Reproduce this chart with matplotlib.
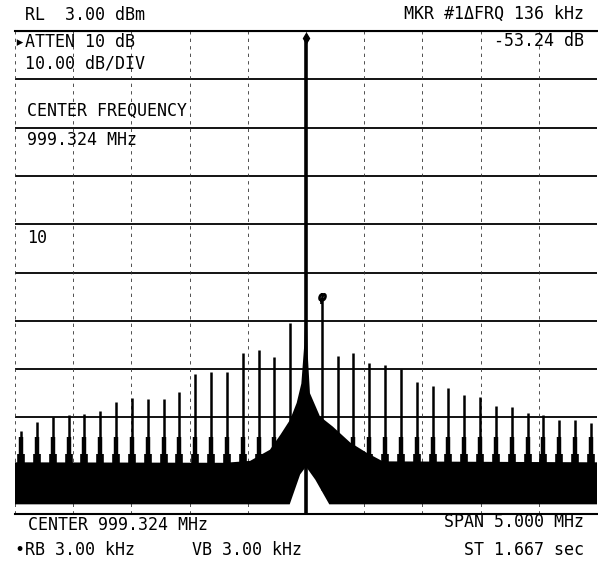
import numpy as np
import matplotlib
matplotlib.use("Agg")
import matplotlib.pyplot as plt

# --- data (offset from 999.324 MHz, MHz / dBm) ---
ref_level = 3.0
db_per_div = 10.0
span_mhz = 5.0
fm_spacing = 0.136

carrier_db = 1.6

# sidebands k = -18 .. -1
lower_sb_db = [-79.9, -77.9, -77.0, -76.4, -76.2, -75.6, -73.9, -72.9, -73.1,
               -73.1, -71.7, -68.1, -67.7, -67.7, -63.6, -63.0, -64.4, -57.4]
# sidebands k = 1 .. 18
upper_sb_db = [-52.2, -64.2, -63.6, -65.7, -66.1, -66.9, -69.6, -70.4, -71.0,
               -72.3, -72.7, -74.6, -74.8, -76.0, -76.4, -77.5, -77.5, -78.1]

# top of the noise band (incl. carrier skirt)
noise_f = [-2.5, -0.70, -0.48, -0.31, -0.22, -0.137, -0.08, -0.04, -0.015, 0.0,
           0.015, 0.034, 0.12, 0.23, 0.38, 0.52, 0.66, 2.5]
noise_top = [-86.3, -86.4, -86.0, -83.7, -80.6, -77.5, -74.0, -70.0, -62.0, -50.0,
             -64.0, -72.0, -76.8, -78.9, -82.2, -84.3, -86.1, -86.3]
# bottom of the noise band
floor_f = [-2.5, -0.14, -0.05, 0.0, 0.08, 0.2, 2.5]
floor_db = [-95.0, -95.0, -88.8, -87.2, -89.9, -95.0, -95.0]

bottom = ref_level - 10 * db_per_div

fig = plt.figure(figsize=(5.98, 5.61), dpi=100)
ax = fig.add_axes([15 / 598, 1 - 514 / 561, 582 / 598, 483 / 561])
ax.set_xlim(-span_mhz / 2, span_mhz / 2)
ax.set_ylim(bottom, ref_level)

# graticule
for i in range(1, 11):
    ax.axhline(ref_level - i * db_per_div, color="black", lw=1.3, zorder=1)
ax.axhline(ref_level, color="black", lw=1.5, zorder=1)
for i in range(0, 11):
    ax.axvline(-span_mhz / 2 + i * span_mhz / 10, color="#333333", lw=0.6,
               ls=(0, (4, 5)), zorder=1)

# noise band: outline = top envelope, then floor back to the left
ax.fill(noise_f + floor_f[::-1], noise_top + floor_db[::-1],
        color="black", lw=0, zorder=2)

# sidebands
k_low = np.arange(-len(lower_sb_db), 0)
k_up = np.arange(1, len(upper_sb_db) + 1)
sb_f = np.concatenate([k_low, k_up]) * fm_spacing
sb_db = np.array(lower_sb_db + upper_sb_db)
ax.vlines(sb_f, bottom + 5, sb_db, color="black", lw=1.8, zorder=3)
ax.vlines(sb_f, bottom + 8, -81, color="black", lw=3.2, zorder=3)
ax.vlines(sb_f, bottom + 8, -84.5, color="black", lw=5.5, zorder=3)

# carrier
ax.vlines([0.0], bottom, carrier_db, color="black", lw=2.6, zorder=4)
ax.plot([0.0], [carrier_db], marker="d", color="black", ms=5, zorder=5)
ax.plot([fm_spacing], [upper_sb_db[0]], marker="$\\varphi$", color="black",
        ms=7, zorder=5)

ax.set_xticks([])
ax.set_yticks([])
for s in ["left", "right"]:
    ax.spines[s].set_visible(False)
ax.spines["bottom"].set_linewidth(1.5)
ax.spines["top"].set_linewidth(1.5)

# annotations
font = dict(family=["DejaVu Sans Mono", "DejaVu Sans"], fontsize=12, color="black",
            va="center")
W, H = 598, 561


def txt(x, y, s, ha="left"):
    fig.text(x / W, 1 - y / H, s, ha=ha, **font)


txt(25, 15, "RL  3.00 dBm")
txt(584, 14, "MKR #1\u0394FRQ 136 kHz", ha="right")
txt(584, 41, "-53.24 dB", ha="right")
txt(15, 42, "\u25b8ATTEN 10 dB")
txt(25, 64, "10.00 dB/DIV")
txt(27, 111, "CENTER FREQUENCY")
txt(27, 140, "999.324 MHz")
txt(27, 238, "10")
txt(28, 525, "CENTER 999.324 MHz")
txt(584, 522, "SPAN 5.000 MHz", ha="right")
txt(15, 550, "\u2022RB 3.00 kHz")
txt(192, 550, "VB 3.00 kHz")
txt(584, 550, "ST 1.667 sec", ha="right")

fig.savefig("out.png", dpi=100)
